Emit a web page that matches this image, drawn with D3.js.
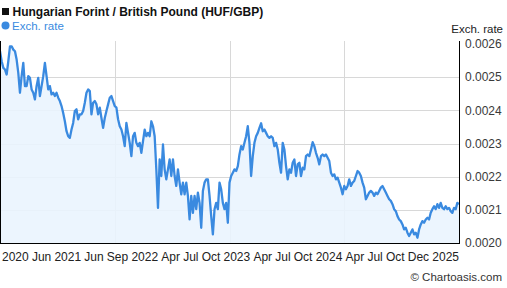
<!DOCTYPE html>
<html><head><meta charset="utf-8">
<script src="https://cdn.jsdelivr.net/npm/d3@7"></script>
<style>
body{margin:0;background:#fff}
svg{display:block;font-family:Arial,"Liberation Sans",sans-serif}
</style>
</head><body>
<svg id="c" width="507" height="288"></svg>
<script>
// HUF/GBP exchange rate (evenly spaced in time)
const rates = [
0.002578,0.002548,0.002528,0.002523,0.002508,0.002548,0.002593,0.002593,0.002583,0.002578,
0.002553,0.002513,0.002453,0.002503,0.002543,0.002473,0.002473,0.002503,0.002498,0.002463,
0.002453,0.002433,0.002473,0.002498,0.002443,0.002473,0.002503,0.002543,0.002503,0.002463,
0.002473,0.002448,0.002453,0.002443,0.002453,0.002438,0.002428,0.002413,0.002392,0.002367,
0.002337,0.002322,0.002317,0.002342,0.002362,0.002398,0.002403,0.002373,0.002388,0.002388,
0.002398,0.002423,0.002453,0.002463,0.002458,0.002388,
0.002423,0.002428,0.002418,0.002388,0.002408,0.002377,0.002347,0.002377,0.002398,0.002418,
0.002438,0.002443,0.002428,0.002413,0.002408,0.002373,0.002352,0.002342,0.002322,0.002292,
0.002362,0.002332,0.002302,0.002262,0.002322,0.002332,0.002302,0.002292,0.002302,0.002272,
0.002307,0.002342,0.002322,0.002332,0.002322,0.002367,0.002352,0.002322,0.002222,0.002106,
0.002252,0.002202,0.002297,0.002222,0.002192,0.002222,0.002252,0.002202,0.002252,0.002202,
0.002172,0.002222,0.002182,0.002147,0.002182,0.002147,
0.002182,0.002142,0.002071,0.002142,0.002091,0.002142,0.002102,0.002152,0.002121,0.002046,
0.002157,0.002182,0.002192,0.002192,0.002142,0.002081,0.002026,0.002102,0.002121,0.002102,
0.002182,0.002162,0.002121,0.002102,0.002121,0.002061,0.002182,0.002202,0.002212,0.002222,
0.002217,0.002232,0.002267,0.002292,0.002282,0.002302,0.002322,0.002352,0.002302,0.002202,
0.002262,0.002302,0.002322,0.002332,0.002347,0.002361,0.002337,0.002342,0.002332,0.002322,
0.002317,0.002322,0.002317,0.002292,0.002302,0.002282,
0.002242,0.002212,0.002302,0.002282,0.002232,0.002192,0.002222,0.002212,0.002242,0.002252,
0.002202,0.002237,0.002242,0.002202,0.002227,0.002222,0.002262,0.002267,0.002262,0.002282,
0.002304,0.002292,0.002272,0.002257,0.002237,0.002262,0.002267,0.002262,0.002267,0.002257,
0.002247,0.002212,0.002202,0.002207,0.002192,0.002197,0.002182,0.002167,0.002147,0.002172,
0.002162,0.002172,0.002192,0.002172,0.002182,0.002187,0.002202,0.002217,0.002212,0.002202,
0.002182,0.002167,0.002132,0.002142,0.002152,0.002157,
0.002152,0.002142,0.002152,0.002147,0.002157,0.002167,0.002172,0.002162,0.002152,0.002142,
0.002132,0.002127,0.002117,0.002102,0.002096,0.002081,0.002071,0.002066,0.002056,0.002041,
0.002046,0.002031,0.002021,0.002031,0.002041,0.002026,0.002031,0.002016,0.002041,0.002056,
0.002066,0.002061,0.002071,0.002076,0.002071,0.002091,0.002102,0.002111,0.002102,0.002117,
0.002106,0.002121,0.002106,0.002102,0.002111,0.002102,0.002106,0.002096,0.002091,0.002106,
0.002102,0.002121,0.002117
];
const startDate = new Date(2020, 7, 3);
const endDate = new Date(2025, 5, 30);

const yTicks = [0.0020, 0.0021, 0.0022, 0.0023, 0.0024, 0.0025, 0.0026];
const xTickLabels = ["2020","Jun","2021","Jun","Sep","2022","Apr","Jul","Oct","2023","Apr","Jul","Oct","2024","Apr","Jul","Oct","Dec","2025"];

const titleText = "Hungarian Forint / British Pound (HUF/GBP)";
const seriesName = "Exch. rate";

// layout
const L = 0, R = 459, T = 41, B = 243;
const lineColor = "#3a8ae0";

const n = rates.length;
const span = endDate - startDate;
const data = rates.map((v, i) => ({date: new Date(+startDate + span * i / (n - 1)), v}));

const x = d3.scaleTime().domain([startDate, endDate]).range([L, R]);
const y = d3.scaleLinear().domain([0.0020, 0.0026]).range([B, 44]);

const svg = d3.select("#c");

// grid
const g = svg.append("g");
g.selectAll("line.h").data(yTicks.filter(t => t > 0.00201 && t < 0.00259)).join("line")
  .attr("x1", L).attr("x2", R)
  .attr("y1", d => Math.round(y(d)) + 0.5).attr("y2", d => Math.round(y(d)) + 0.5)
  .attr("stroke", "#d8d8d8").attr("stroke-width", 1);
const vq = [0.25, 0.5, 0.75].map(f => new Date(+startDate + span * f));
g.selectAll("line.v").data(vq).join("line")
  .attr("x1", d => Math.round(x(d)) + 0.5).attr("x2", d => Math.round(x(d)) + 0.5)
  .attr("y1", T).attr("y2", B)
  .attr("stroke", "#d8d8d8").attr("stroke-width", 1);

// area + line
svg.append("path").datum(data)
  .attr("d", d3.area().x(d => x(d.date)).y0(B).y1(d => y(d.v)))
  .attr("fill", "#eaf4fe").attr("fill-opacity", 0.9);
svg.append("path").datum(data)
  .attr("d", d3.line().x(d => x(d.date)).y(d => y(d.v)))
  .attr("fill", "none").attr("stroke", lineColor).attr("stroke-width", 2.3)
  .attr("stroke-linejoin", "round");

// frame
svg.append("line").attr("x1", 0.5).attr("x2", 0.5).attr("y1", T).attr("y2", B + 1).attr("stroke", "#000");
svg.append("line").attr("x1", R + 0.5).attr("x2", R + 0.5).attr("y1", T).attr("y2", B + 1).attr("stroke", "#000");
svg.append("line").attr("x1", 0).attr("x2", R + 1).attr("y1", B + 0.5).attr("y2", B + 0.5).attr("stroke", "#000");

// y labels
svg.append("g").selectAll("text").data(yTicks).join("text")
  .attr("x", 465).attr("y", d => y(d)).attr("dy", "0.36em")
  .attr("font-size", 12).attr("fill", "#3a3a3a")
  .text(d => d.toFixed(4));
svg.append("text").attr("x", 503).attr("y", 33).attr("text-anchor", "end")
  .attr("font-size", 11.5).attr("fill", "#222").text(seriesName);

// x labels laid out left to right, evenly spread under the plot
const xl = svg.append("g").selectAll("text").data(xTickLabels)
  .join("text").attr("y", 261).attr("font-size", 12).attr("fill", "#222").text(d => d);
const widths = [];
xl.each(function() { widths.push(this.getComputedTextLength()); });
const total = d3.sum(widths);
const gap = (R - 2 - total) / (xTickLabels.length - 1);
let cur = 2;
xl.each(function(d, i) { this.setAttribute("x", cur); cur += widths[i] + gap; });

// title + legend
svg.append("rect").attr("x", 2).attr("y", 8).attr("width", 7).attr("height", 7).attr("fill", "#111");
svg.append("text").attr("x", 12.5).attr("y", 16).attr("font-size", 12).attr("font-weight", "bold").attr("fill", "#111").text(titleText);
svg.append("circle").attr("cx", 5.5).attr("cy", 25.5).attr("r", 4).attr("fill", lineColor);
svg.append("text").attr("x", 12).attr("y", 29.5).attr("font-size", 11.5).attr("fill", lineColor).text(seriesName);

svg.append("text").attr("x", 502).attr("y", 281).attr("text-anchor", "end")
  .attr("font-size", 11.5).attr("fill", "#333").text("© Chartoasis.com");
</script>
</body></html>
